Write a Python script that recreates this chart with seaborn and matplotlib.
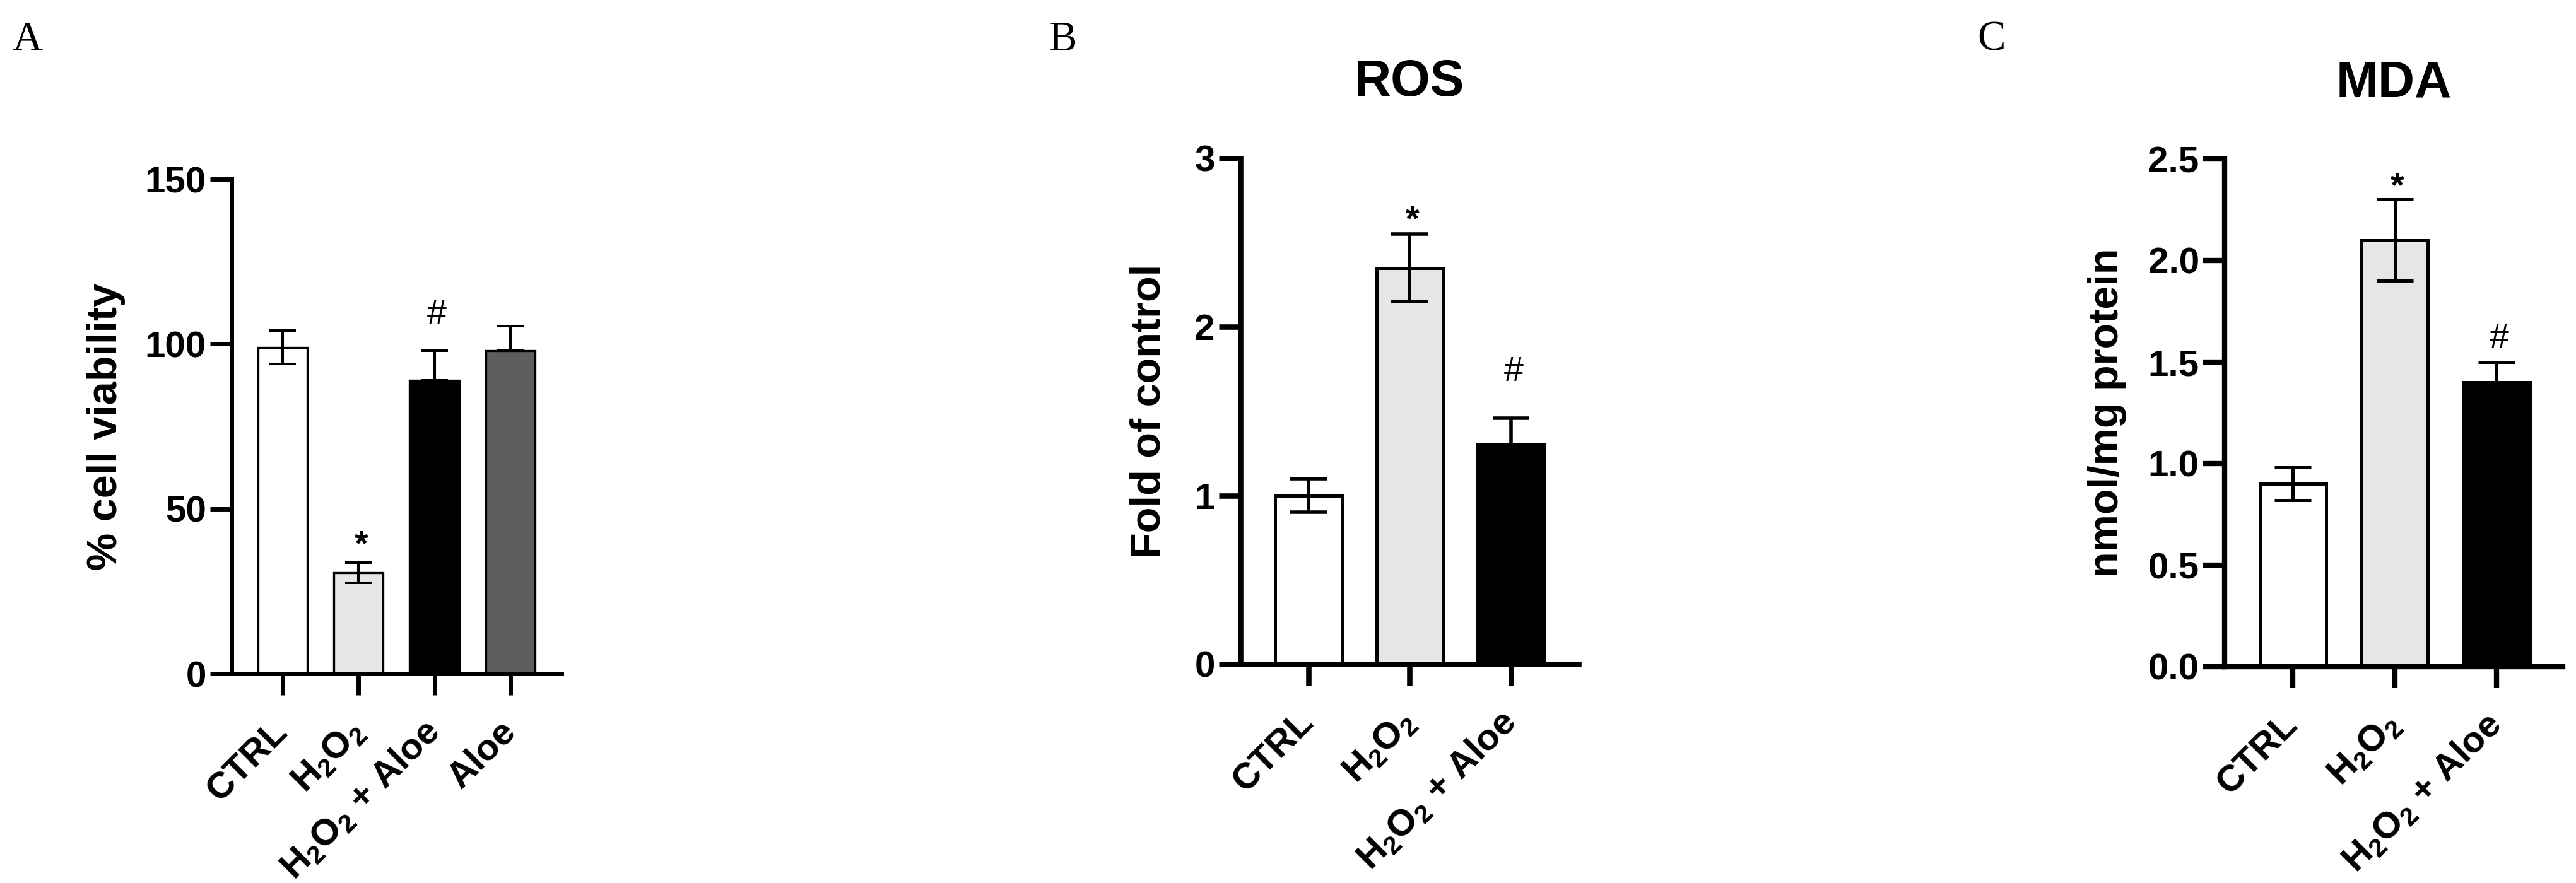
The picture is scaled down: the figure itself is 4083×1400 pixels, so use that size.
import numpy as np
import pandas as pd
import matplotlib
matplotlib.use("Agg")
import matplotlib.pyplot as plt
import matplotlib.colors as mcolors
import seaborn as sns

# ---------------- data ----------------
viab_groups = ["CTRL", "H2O2", "H2O2 + Aloe", "Aloe"]
viab_labels = ["CTRL", "H$_2$O$_2$", "H$_2$O$_2$ + Aloe", "Aloe"]
viab_mean = [99.0, 30.6, 89.0, 98.0]
viab_sem = [5.0, 3.0, 9.0, 7.5]
viab_marks = ["", "*", "#", ""]
viab_ticks = [0, 50, 100, 150]

ros_groups = ["CTRL", "H2O2", "H2O2 + Aloe"]
ros_labels = ["CTRL", "H$_2$O$_2$", "H$_2$O$_2$ + Aloe"]
ros_mean = [1.0, 2.35, 1.3]
ros_sem = [0.1, 0.2, 0.16]
ros_marks = ["", "*", "#"]
ros_ticks = [0, 1, 2, 3]

mda_groups = ["CTRL", "H2O2", "H2O2 + Aloe"]
mda_labels = ["CTRL", "H$_2$O$_2$", "H$_2$O$_2$ + Aloe"]
mda_mean = [0.9, 2.1, 1.4]
mda_sem = [0.08, 0.2, 0.1]
mda_marks = ["", "*", "#"]
mda_ticks = [0.0, 0.5, 1.0, 1.5, 2.0, 2.5]

# ---------------- style ----------------
sns.set_theme(style="ticks")
plt.rcParams["font.family"] = ["Liberation Sans", "DejaVu Sans"]
plt.rcParams["mathtext.default"] = "regular"
plt.rcParams["axes.facecolor"] = "white"

bar_colors = ["#ffffff", "#e6e6e6", "#000000", "#5e5e5e"]
mark_weight = {"*": "bold", "#": "normal"}

W, H = 4083, 1400
fig = plt.figure(figsize=(W / 100, H / 100), dpi=100)
fig.patch.set_facecolor("white")


def add_axes(l, r, t, b):
    return fig.add_axes([l / W, 1 - b / H, (r - l) / W, (b - t) / H])


def panel(ax, groups, labels, mean, sem, marks, ticks, fmt, ylabel, title,
          xlim, barw, spine_lw, edge_lw, err_lw, capsize, gaps, ylabel_x):
    cols = bar_colors[:len(groups)]
    df = pd.DataFrame({"group": groups, "value": mean})
    sns.barplot(data=df, x="group", y="value", hue="group", order=groups,
                hue_order=groups, palette=dict(zip(groups, cols)),
                width=barw, edgecolor="black", linewidth=edge_lw,
                errorbar=None, legend=False, saturation=1, ax=ax)
    x = np.arange(len(groups))
    lower = [s if np.mean(mcolors.to_rgb(c)) > 0.5 else 0.0
             for s, c in zip(sem, cols)]
    ax.errorbar(x, mean, yerr=[lower, sem], fmt="none", ecolor="black",
                elinewidth=err_lw, capsize=capsize, capthick=err_lw, zorder=5)
    for i, (m, s, mk) in enumerate(zip(mean, sem, marks)):
        if mk:
            ax.annotate(mk, xy=(i, m + s), xytext=(4, gaps[mk]),
                        textcoords="offset pixels", ha="center",
                        va="baseline", fontsize=40,
                        fontweight=mark_weight[mk], color="black")
    ax.set_xlim(*xlim)
    ax.set_ylim(ticks[0], ticks[-1])
    ax.set_yticks(ticks)
    ax.set_yticklabels([fmt.format(t) for t in ticks])
    ax.set_xticks(x)
    ax.set_xticklabels(labels, rotation=45, ha="right", va="center",
                       rotation_mode="anchor")
    sns.despine(ax=ax)
    for sp in ["left", "bottom"]:
        ax.spines[sp].set_linewidth(spine_lw)
        ax.spines[sp].set_color("black")
    ax.tick_params(axis="both", length=24.5, width=spine_lw, labelsize=42,
                   color="black", labelcolor="black")
    ax.tick_params(axis="y", pad=4.5)
    ax.tick_params(axis="x", pad=36)
    for lbl in ax.get_xticklabels() + ax.get_yticklabels():
        lbl.set_fontweight("bold")
    ax.set_xlabel("")
    ax.set_ylabel(ylabel, fontsize=48, fontweight="bold", color="black")
    ax.yaxis.set_label_coords(ylabel_x, 0.5)
    if title:
        ax.set_title(title, fontsize=58, fontweight="bold", pad=71,
                     color="black")


axA = add_axes(367, 890, 284, 1068)
panel(axA, viab_groups, viab_labels, viab_mean, viab_sem, viab_marks,
      viab_ticks, "{:d}", "% cell viability", None,
      (-0.673, 3.674), 0.65, 5.0, 2.4, 2.9, 15, {"*": 13, "#": 42}, -0.321)

axB = add_axes(1966, 2502, 251, 1053)
panel(axB, ros_groups, ros_labels, ros_mean, ros_sem, ros_marks,
      ros_ticks, "{:d}", "Fold of control", "ROS",
      (-0.673, 2.667), 0.66, 6.2, 3.6, 4.0, 21, {"*": 7, "#": 59}, -0.211)

axC = add_axes(3526, 4062, 252, 1057)
panel(axC, mda_groups, mda_labels, mda_mean, mda_sem, mda_marks,
      mda_ticks, "{:.1f}", "nmol/mg protein", "MDA",
      (-0.669, 2.65), 0.65, 6.0, 3.6, 3.6, 21, {"*": 5, "#": 22}, -0.289)

for txt, xl in [("A", 19), ("B", 1662), ("C", 3134)]:
    fig.text(xl / W, 1 - 80 / H, txt, fontsize=48, family="Liberation Serif",
             ha="left", va="baseline", color="black")

fig.savefig("out.png", dpi=100, facecolor="white")
